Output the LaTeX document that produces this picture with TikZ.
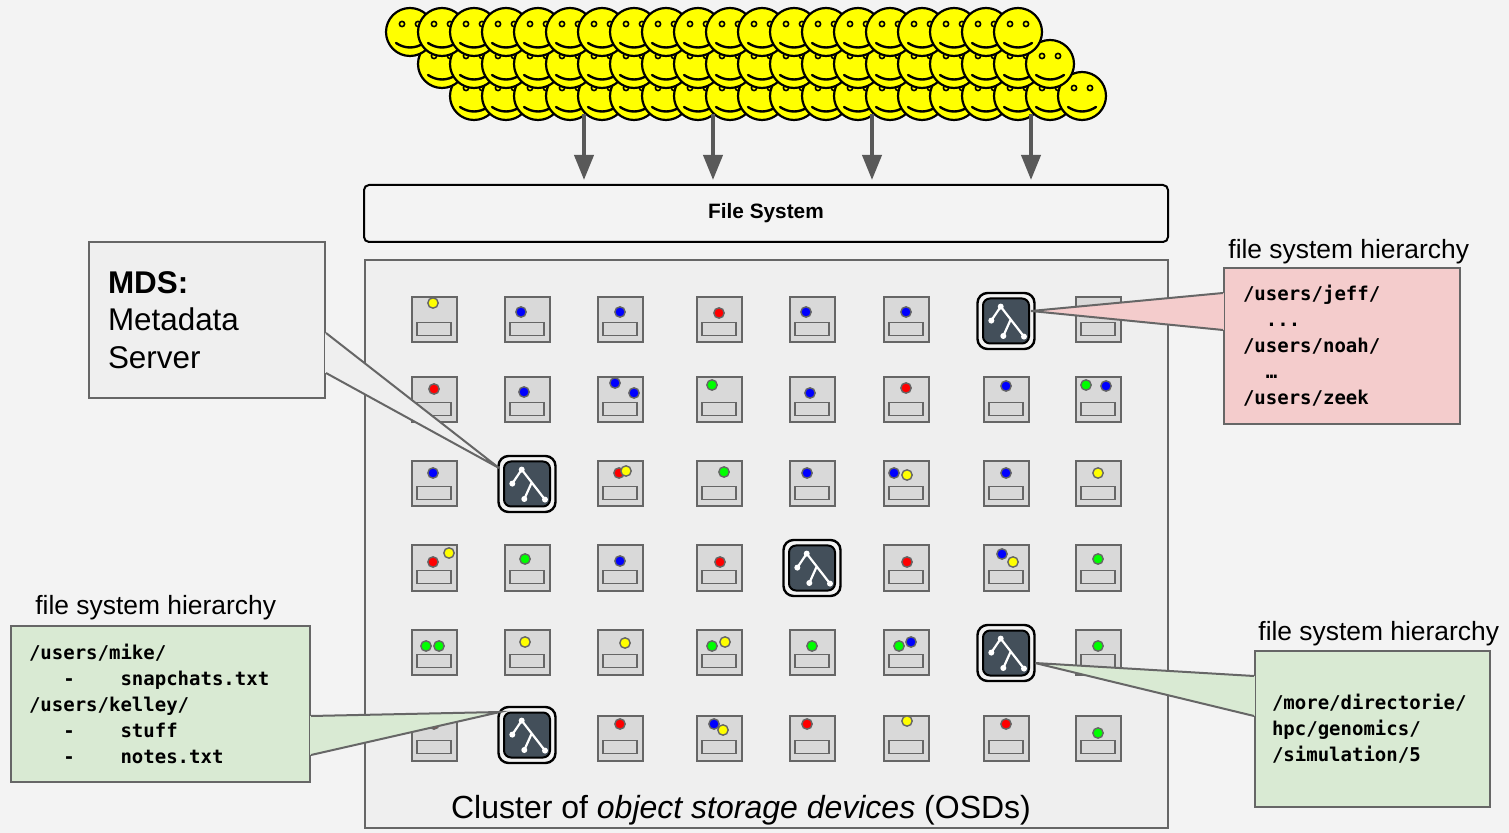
\documentclass[tikz,border=0pt]{standalone}
\usepackage{fontspec}
\setmainfont{Liberation Sans}
\setmonofont{DejaVu Sans Mono}
\usepackage{tikz}
\usetikzlibrary{arrows.meta,calc,positioning}
\definecolor{CanvasGray}{HTML}{F3F3F3}
\definecolor{ClusterGray}{HTML}{EFEFEF}
\definecolor{DiskGray}{HTML}{D9D9D9}
\definecolor{EdgeGray}{HTML}{666666}
\definecolor{ArrowGray}{HTML}{595959}
\definecolor{MdsSlate}{HTML}{434F5A}
\definecolor{NotePink}{HTML}{F4CCCC}
\definecolor{NoteGreen}{HTML}{D9EAD3}
\definecolor{NoteGray}{HTML}{EFEFEF}
\definecolor{FaceYellow}{HTML}{FFFF00}
\definecolor{DotRed}{HTML}{FF0000}
\definecolor{DotBlue}{HTML}{0000FF}
\definecolor{DotGreen}{HTML}{00FF00}
\definecolor{DotYellow}{HTML}{FFFF00}
% pointer of a note: #1 fill, #2 and #3 base points on the box edge, #4 tip
\newcommand{\notebeak}[4]{%
  \fill[#1] (#2) -- (#4) -- (#3) -- cycle;
  \draw[#1, line width=1.3pt] (#2) -- (#3);
  \draw[EdgeGray, line width=1pt] (#2) -- (#4) -- (#3);%
}
\tikzset{
  smiley/.pic={
    \filldraw[fill=FaceYellow, draw=black, line width=1.1pt] (0,0) circle (12pt);
    \filldraw[fill=FaceYellow, draw=black, line width=0.8pt] (-8,-8) circle (1.3pt) (8,-8) circle (1.3pt);
    \draw[line width=1.2pt, line cap=round] (-14,11) .. controls (-5,17) and (5,17) .. (14,11);
  },
  osdslot/.pic={
    \draw[draw=EdgeGray, fill=DiskGray, line width=0.9pt] (-17,2.5) rectangle (17,15.5);
  },
  mdstree/.pic={
    \filldraw[fill=MdsSlate, draw=black, line width=1pt, rounded corners=3.5pt] (-23,-22.5) rectangle (23,22.5);
    \draw[white, line width=1.1pt] (-14.7,-0.4) -- (-5.3,-14.4) -- (18,15.6) (4.7,-1.5) -- (-2.7,15);
    \fill[white] (-5.3,-14.4) circle (1.5pt) (-14.7,-0.4) circle (1.5pt)
                 (-2.7,15) circle (1.5pt) (18,15.6) circle (1.5pt);
  },
  osd/.style={draw=EdgeGray, fill=DiskGray, line width=1pt, minimum width=22.5pt, minimum height=22.5pt, inner sep=0pt},
  spot/.style={fill=#1, draw=EdgeGray, line width=0.7pt},
  mdsframe/.style={draw=black, fill=CanvasGray, line width=1.2pt, rounded corners=5pt, minimum width=28.5pt, minimum height=28pt, inner sep=0pt},
  note/.style={draw=EdgeGray, line width=1pt, anchor=north west, align=left, minimum height=78pt, inner ysep=0pt},
  notemono/.style={font=\fontsize{9.5}{13}\selectfont\ttfamily\bfseries},
  hiertitle/.style={font=\fontsize{13.2}{15}\selectfont, inner sep=0pt},
  flow/.style={draw=ArrowGray, line width=2pt, -{Triangle[length=12.5pt,width=9.5pt]}, shorten >=2pt}
}

\begin{document}
\begin{tikzpicture}[x=0.5pt, y=-0.5pt]
  \fill[CanvasGray] (0,0) rectangle (1509,833);
  \useasboundingbox (0,0) rectangle (1509,833);

  % the cluster
  \node[draw=EdgeGray, fill=ClusterGray, line width=1pt, minimum width=401.5pt, minimum height=284pt, inner sep=0pt] (cluster) at (766.5,544) {};
  \node[font=\fontsize{16}{19}\selectfont, anchor=base] (clusterlabel) at (741,818) {Cluster of \textit{object storage devices} (OSDs)};

  % disks with their objects: row/column/{colour/dx/dy, ...}
  \def\colx{{434,527,620,719,812,906,1006,1098}}
  \def\rowy{{320,400,484,568,652,738}}
  \foreach \r/\c/\spots in {
      1/1/{DotYellow/-1/-17}, 1/2/{DotBlue/-6/-8}, 1/3/{DotBlue/0/-8}, 1/4/{DotRed/0/-7},
      1/5/{DotBlue/-6/-8}, 1/6/{DotBlue/0/-8}, 1/8/{DotBlue/-5/-8},
      2/1/{DotRed/0/-11}, 2/2/{DotBlue/-3/-8}, 2/3/{DotBlue/-5/-17, DotBlue/14/-7}, 2/4/{DotGreen/-7/-15},
      2/5/{DotBlue/-2/-7}, 2/6/{DotRed/0/-12}, 2/7/{DotBlue/0/-14}, 2/8/{DotGreen/-12/-15, DotBlue/8/-14},
      3/1/{DotBlue/-1/-11}, 3/3/{DotRed/-1/-11, DotYellow/6/-13}, 3/4/{DotGreen/5/-12}, 3/5/{DotBlue/-5/-11},
      3/6/{DotBlue/-12/-11, DotYellow/1/-9}, 3/7/{DotBlue/0/-11}, 3/8/{DotYellow/0/-11},
      4/1/{DotRed/-1/-6, DotYellow/15/-15}, 4/2/{DotGreen/-2/-9}, 4/3/{DotBlue/0/-7}, 4/4/{DotRed/1/-6},
      4/6/{DotRed/1/-6}, 4/7/{DotBlue/-4/-14, DotYellow/7/-6}, 4/8/{DotGreen/0/-9},
      5/1/{DotGreen/-8/-6, DotGreen/5/-6}, 5/2/{DotYellow/-2/-10}, 5/3/{DotYellow/5/-9},
      5/4/{DotGreen/-7/-6, DotYellow/6/-10}, 5/5/{DotGreen/0/-6}, 5/6/{DotGreen/-7/-6, DotBlue/5/-10},
      5/8/{DotGreen/0/-6},
      6/1/{DotRed/0/-14}, 6/3/{DotRed/0/-14}, 6/4/{DotBlue/-5/-14, DotYellow/4/-8}, 6/5/{DotRed/-5/-14},
      6/6/{DotYellow/1/-17}, 6/7/{DotRed/0/-14}, 6/8/{DotGreen/0/-5}}{
    \pgfmathsetmacro{\x}{\colx[\c-1]}
    \pgfmathsetmacro{\y}{\rowy[\r-1]}
    \node[osd] (osd-\r-\c) at (\x,\y) {};
    \pic at (osd-\r-\c) {osdslot};
    \foreach \hue/\dx/\dy in \spots
      \path[spot=\hue] ($(osd-\r-\c)+(\dx,\dy)$) circle (2.6pt);
  }

  % metadata servers
  \foreach \n/\x/\y in {a/1006/321, b/527/484, c/812/568, d/1006/653, e/527/735}{
    \node[mdsframe] (mds-\n) at (\x,\y) {};
    \pic at (mds-\n) {mdstree};
  }

  \node[draw=black, fill=CanvasGray, line width=1pt, rounded corners=2.5pt, minimum width=402pt, minimum height=28.5pt,
        font=\fontsize{10.4}{12}\selectfont\bfseries] (fs) at (766,213.5) {File System};

  % the crowd of users, back row first
  \foreach \r in {3,2,1}
    \foreach \i in {0,...,19}
      \pic at ({378+32*\r+32*\i},{32*\r}) {smiley};

  \coordinate (drop1) at (584,114);
  \coordinate (drop2) at (713,114);
  \coordinate (drop3) at (872,114);
  \coordinate (drop4) at (1031,114);
  \foreach \k in {1,...,4}
    \draw[flow] (drop\k) -- (drop\k |- fs.north);

  % notes
  \node[note, fill=NoteGray, text width=99pt, inner xsep=9.5pt, font=\fontsize{15.7}{18.8}\selectfont] (mdsnote) at (88,241)
    {\textbf{MDS:}\\Metadata\\Server};
  \coordinate (mdsA) at ($(mdsnote.north east)+(0,92)$);
  \coordinate (mdsB) at ($(mdsnote.north east)+(0,132)$);
  \coordinate (mdsTip) at ($(mds-b)+(-28,-16)$);
  \notebeak{NoteGray}{mdsA}{mdsB}{mdsTip}

  \node[note, fill=NotePink, notemono, text width=99pt, inner xsep=9.5pt] (pinknote) at (1223,267)
    {/users/jeff/\\\hphantom{xx}...\\/users/noah/\\\hphantom{xx}…\\/users/zeek};
  \coordinate (pinkA) at ($(pinknote.north west)+(0,26)$);
  \coordinate (pinkB) at ($(pinknote.north west)+(0,63)$);
  \coordinate (pinkTip) at ($(mds-a)+(25,-10)$);
  \notebeak{NotePink}{pinkA}{pinkB}{pinkTip}
  \node[hiertitle, above right=1.2pt and 2.5pt of pinknote.north west] (pinktitle) {file system hierarchy};

  \node[note, fill=NoteGreen, notemono, text width=131.5pt, inner xsep=9pt] (leftnote) at (10,625)
    {/users/mike/\\\hphantom{xxx}-\hphantom{xxxx}snapchats.txt\\/users/kelley/\\\hphantom{xxx}-\hphantom{xxxx}stuff\\\hphantom{xxx}-\hphantom{xxxx}notes.txt};
  \coordinate (leftA) at ($(leftnote.north east)+(0,91)$);
  \coordinate (leftB) at ($(leftnote.north east)+(0,130)$);
  \coordinate (leftTip) at ($(mds-e)+(-27,-23)$);
  \notebeak{NoteGreen}{leftA}{leftB}{leftTip}
  \node[hiertitle, above right=2.2pt and 12.5pt of leftnote.north west] (lefttitle) {file system hierarchy};

  \node[note, fill=NoteGreen, notemono, text width=100.5pt, inner xsep=8.5pt] (rightnote) at (1254,650)
    {/more/directorie/\\hpc/genomics/\\/simulation/5};
  \coordinate (rightA) at ($(rightnote.north west)+(0,26)$);
  \coordinate (rightB) at ($(rightnote.north west)+(0,66)$);
  \coordinate (rightTip) at ($(mds-d)+(29,10)$);
  \notebeak{NoteGreen}{rightA}{rightB}{rightTip}
  \node[hiertitle, above right=1.7pt and 2pt of rightnote.north west] (righttitle) {file system hierarchy};
\end{tikzpicture}
\end{document}
